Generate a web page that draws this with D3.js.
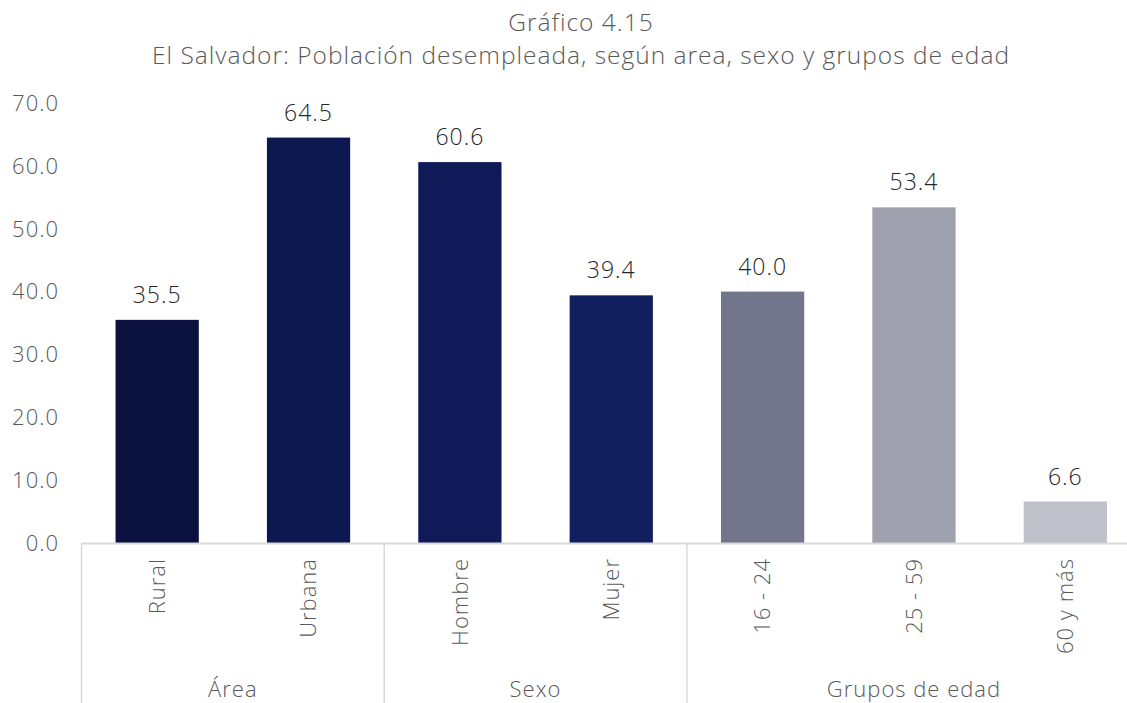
<!DOCTYPE html>
<html>
<head>
<meta charset="utf-8">
<script src="https://cdn.jsdelivr.net/npm/d3@7"></script>
<style>
  body { margin: 0; background: #fff; }
  text { font-family: "Open Sans", Lato, sans-serif; font-weight: 300; letter-spacing: 1px; }
</style>
</head>
<body>
<script>
// data
const categories = ["Rural", "Urbana", "Hombre", "Mujer", "16 - 24", "25 - 59", "60 y más"];
const values = [35.5, 64.5, 60.6, 39.4, 40.0, 53.4, 6.6];
const barColors = ["#0b1240", "#0d1850", "#101a58", "#111f5f", "#73758b", "#a0a1ae", "#c0c0ca"];
const groups = [
  { name: "Área", first: 0, last: 1 },
  { name: "Sexo", first: 2, last: 3 },
  { name: "Grupos de edad", first: 4, last: 6 }
];
const yTicks = [0, 10, 20, 30, 40, 50, 60, 70];

const w = 1127, h = 703;
const plotLeft = 81.5, plotRight = 1141, plotTop = 103, plotBottom = 543;

const svg = d3.select("body").append("svg")
    .attr("width", w)
    .attr("height", h);

// title
svg.append("text")
    .attr("x", 581).attr("y", 31)
    .attr("text-anchor", "middle")
    .attr("fill", "#595959")
    .style("font-size", "24.5px")
    .text("Gráfico 4.15");
svg.append("text")
    .attr("x", 581).attr("y", 64)
    .attr("text-anchor", "middle")
    .attr("fill", "#595959")
    .style("font-size", "24.5px")
    .text("El Salvador: Población desempleada, según area, sexo y grupos de edad");

const x = d3.scaleBand()
    .domain(categories)
    .range([plotLeft, plotRight])
    .paddingInner(0.45)
    .paddingOuter(0.225);

const y = d3.scaleLinear()
    .domain([0, 70])
    .range([plotBottom, plotTop]);

// y tick labels (no axis line)
svg.selectAll(".ytick")
    .data(yTicks)
    .enter()
    .append("text")
    .attr("class", "ytick")
    .attr("x", 59)
    .attr("y", d => y(d))
    .attr("dy", "0.36em")
    .attr("text-anchor", "end")
    .attr("fill", "#595959")
    .style("font-size", "22px")
    .text(d => d.toFixed(1));

// bars
svg.selectAll("rect.bar")
    .data(values)
    .enter()
    .append("rect")
    .attr("class", "bar")
    .attr("x", (d, i) => x(categories[i]))
    .attr("y", d => y(d))
    .attr("width", x.bandwidth())
    .attr("height", d => plotBottom - y(d))
    .attr("fill", (d, i) => barColors[i]);

// value labels
svg.selectAll(".vlabel")
    .data(values)
    .enter()
    .append("text")
    .attr("class", "vlabel")
    .attr("x", (d, i) => x(categories[i]) + x.bandwidth() / 2)
    .attr("y", d => y(d) - 17)
    .attr("text-anchor", "middle")
    .attr("fill", "#262626")
    .style("font-size", "23px")
    .text(d => d.toFixed(1));

// x axis line + group separators
const grid = "#d9d9d9";
svg.append("line")
    .attr("x1", plotLeft).attr("x2", plotRight)
    .attr("y1", plotBottom + 0.5).attr("y2", plotBottom + 0.5)
    .attr("stroke", grid).attr("stroke-width", 2);

const step = x.step();
const sepX = [plotLeft].concat(groups.map(g => plotLeft + (g.last + 1) * step));
svg.selectAll(".sep")
    .data(sepX)
    .enter()
    .append("line")
    .attr("class", "sep")
    .attr("x1", d => d).attr("x2", d => d)
    .attr("y1", plotBottom).attr("y2", h)
    .attr("stroke", grid).attr("stroke-width", 1.5);

// category labels, rotated
svg.selectAll(".xlabel")
    .data(categories)
    .enter()
    .append("text")
    .attr("class", "xlabel")
    .attr("transform", d => "translate(" + (x(d) + x.bandwidth() / 2) + "," + 558 + ") rotate(-90)")
    .attr("dy", "0.35em")
    .attr("text-anchor", "end")
    .attr("fill", "#595959")
    .style("font-size", "22px")
    .text(d => d);

// group labels
svg.selectAll(".glabel")
    .data(groups)
    .enter()
    .append("text")
    .attr("class", "glabel")
    .attr("x", g => plotLeft + ((g.first + g.last + 1) / 2) * step)
    .attr("y", 697)
    .attr("text-anchor", "middle")
    .attr("fill", "#595959")
    .style("font-size", "22px")
    .text(g => g.name);
</script>
</body>
</html>
